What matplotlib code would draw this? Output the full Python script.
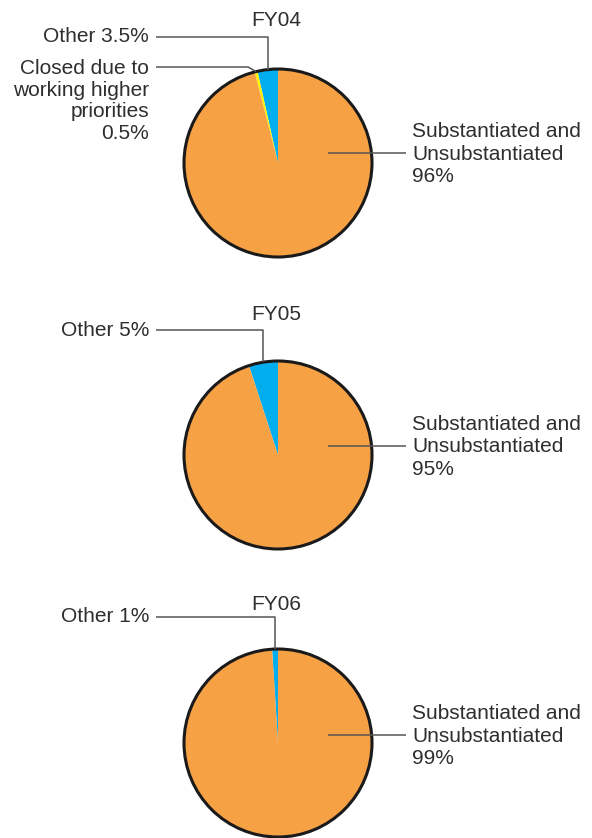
import matplotlib
matplotlib.use("Agg")
import matplotlib.pyplot as plt
import numpy as np
from matplotlib.patches import Circle

# ---- data ----
years = ["FY04", "FY05", "FY06"]
categories = ["Other", "Closed due to working higher priorities", "Substantiated and Unsubstantiated"]
fy04 = [3.5, 0.5, 96]
fy05 = [5, 0, 95]
fy06 = [1, 0, 99]
values = [fy04, fy05, fy06]
other_labels = ["Other 3.5%", "Other 5%", "Other 1%"]
closed_label = "Closed due to\nworking higher\npriorities\n0.5%"
main_labels = ["Substantiated and\nUnsubstantiated\n96%",
               "Substantiated and\nUnsubstantiated\n95%",
               "Substantiated and\nUnsubstantiated\n99%"]
colors = ["#00AEEF", "#FFF200", "#F7A145"]

W, H = 592, 838
fig = plt.figure(figsize=(W / 100, H / 100), dpi=100)
ax = fig.add_axes([0, 0, 1, 1])

FONT = dict(family=["Liberation Sans", "DejaVu Sans"], size=15, color="#2e2e2e")
LINE = dict(color="#555555", lw=1.1, solid_capstyle="butt")

def Y(y):
    return H - y

centers = [(278, 163), (278, 455), (278, 743)]
R = 94
title_y = [21, 314, 605]
other_y = [37, 330, 617]
main_y = [153, 446, 735]

for i, vals in enumerate(values):
    cx, cy = centers[i]
    v = [x for x in vals if x > 0]
    c = [colors[k] for k, x in enumerate(vals) if x > 0]
    ax.pie(v, colors=c, startangle=90, counterclock=True, radius=R,
           center=(cx, Y(cy)), wedgeprops=dict(linewidth=0, edgecolor="none"),
           frame=True)
    ax.add_patch(Circle((cx, Y(cy)), R, fill=False, edgecolor="#1a1a1a", lw=2.2, zorder=5))

    total = sum(vals)
    # title
    ax.text(cx - 2, Y(title_y[i]), years[i], ha="center", va="center", **FONT)

    # Other leader
    a0 = 90
    a1 = 90 + 360 * vals[0] / total
    am = np.radians((a0 + a1) / 2)
    px = cx + R * np.cos(am)
    py = Y(cy) + R * np.sin(am)
    ax.plot([156, px, px], [Y(other_y[i]), Y(other_y[i]), py], **LINE, zorder=6)
    ax.text(149, Y(other_y[i]), other_labels[i], ha="right", va="center", **FONT)

    # Closed leader
    if vals[1] > 0:
        b0 = a1
        b1 = a1 + 360 * vals[1] / total
        bm = np.radians((b0 + b1) / 2)
        qx = cx + R * np.cos(bm)
        qy = Y(cy) + R * np.sin(bm)
        ly = 67
        ax.plot([156, qx - 8, qx], [Y(ly), Y(ly), qy], **LINE, zorder=6)
        ax.text(149, Y(ly - 8), closed_label, ha="right", va="top",
                linespacing=1.17, **FONT)

    # main leader
    ax.plot([cx + 50, 406], [Y(main_y[i]), Y(main_y[i])], **LINE, zorder=6)
    ax.text(412, Y(main_y[i] + 1), main_labels[i], ha="left", va="center",
            linespacing=1.22, **FONT)

ax.set_xlim(0, W)
ax.set_ylim(0, H)
ax.set_aspect("auto")
ax.axis("off")
fig.savefig("out.png", dpi=100)
